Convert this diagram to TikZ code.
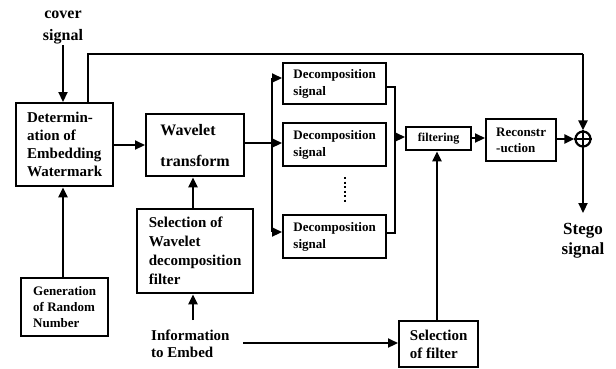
\documentclass[tikz,border=0pt]{standalone}
\usepackage{fontspec}
\setmainfont{Liberation Serif}
\usetikzlibrary{arrows.meta}
\begin{document}
\begin{tikzpicture}[x=1pt,y=-1pt,
  box/.style={draw, line width=2.3pt, anchor=north west, inner sep=0pt, align=left},
  lbl/.style={inner sep=0pt, align=center},
  conn/.style={line width=2.2pt},
  arr/.style={line width=2.2pt, -{Triangle[length=10pt,width=9pt]}},
  sumc/.style={draw, circle, line width=2.2pt, minimum size=15pt, inner sep=0pt},
]
\useasboundingbox (0,0) rectangle (616,368);
% labels
\node[lbl, font=\fontsize{16}{22}\selectfont\bfseries] (cover) at (63,27) {cover\\signal};
\node[lbl, font=\fontsize{17}{20}\selectfont\bfseries] (stego) at (583,241) {Stego\\signal};
\node[lbl, align=left, anchor=north west, font=\fontsize{15}{17}\selectfont\bfseries] (info) at (151,330) {Information\\to Embed};
% boxes
\node[box, minimum width=97pt, minimum height=83pt, font=\fontsize{15}{18}\selectfont\bfseries] (det) at (15,102) {Determin-\\ation of\\Embedding\\Watermark};
\node[box, minimum width=98pt, minimum height=62pt, font=\fontsize{16}{18}\selectfont\bfseries] (wav) at (145,113) {Wavelet\\[13pt]transform};
\node[box, minimum width=116pt, minimum height=84pt, font=\fontsize{15}{19}\selectfont\bfseries] (selw) at (136,208) {Selection of\\Wavelet\\decomposition\\filter};
\node[box, minimum width=87pt, minimum height=58pt, font=\fontsize{13}{16}\selectfont\bfseries] (gen) at (20,277) {Generation\\of Random\\Number};
\node[box, minimum width=103pt, minimum height=41pt, font=\fontsize{13}{17}\selectfont\bfseries] (dec1) at (282,62) {Decomposition\\signal};
\node[box, minimum width=103pt, minimum height=43pt, font=\fontsize{13}{17}\selectfont\bfseries] (dec2) at (282,122) {Decomposition\\signal};
\node[box, minimum width=103pt, minimum height=43pt, font=\fontsize{13}{17}\selectfont\bfseries] (dec3) at (282,214) {Decomposition\\signal};
\node[box, minimum width=65pt, minimum height=23pt, font=\fontsize{12}{14}\selectfont\bfseries] (filt) at (405,126) {filtering};
\node[box, minimum width=70pt, minimum height=42pt, font=\fontsize{13}{16}\selectfont\bfseries] (rec) at (485,118) {Reconstr\\-uction};
\node[box, minimum width=79pt, minimum height=46pt, font=\fontsize{15}{18}\selectfont\bfseries] (self) at (398,320) {Selection\\of filter};
\node[sumc] (sum) at (583,139) {};
\draw[line width=1.8pt] (sum.north) -- (sum.south) (sum.west) -- (sum.east);
% dots
\draw[line width=2.5pt, dash pattern=on 2pt off 2.5pt] (345,177) -- (345,203);
% junction coordinates
\coordinate (tl) at (88,54);
\coordinate (tr) at (583,54);
\coordinate (bus1t) at (272,78);
\coordinate (bus1m) at (272,143);
\coordinate (bus1b) at (272,232);
\coordinate (bus2t) at (395,87);
\coordinate (bus2m) at (395,137);
\coordinate (bus2b) at (395,233);
\coordinate (infoend) at (243,343);
% connectors
\draw[arr] (cover.south |- 0,45) -- (cover.south |- det.north);
\draw[conn] (det.north -| tl) -- (tl) -- (tr);
\draw[arr] (tr) -- (sum.north);
\draw[arr] (det.east |- 0,145) -- (wav.west |- 0,145);
\draw[arr] (gen.north -| 63,0) -- (det.south -| 63,0);
\draw[arr] (selw.north -| 193,0) -- (wav.south -| 193,0);
\draw[arr] (193,320) -- (selw.south -| 193,0);
\draw[conn] (wav.east |- bus1m) -- (bus1m);
\draw[conn] (bus1t) -- (bus1b);
\draw[arr] (bus1t) -- (dec1.west |- bus1t);
\draw[arr] (bus1m) -- (dec2.west |- bus1m);
\draw[arr] (bus1b) -- (dec3.west |- bus1b);
\draw[conn] (dec1.east |- bus2t) -- (bus2t) -- (bus2b) -- (dec3.east |- bus2b);
\draw[arr] (bus2m) -- (filt.west |- bus2m);
\draw[arr] (filt.east |- 0,138) -- (rec.west |- 0,138);
\draw[arr] (rec.east |- sum.west) -- (sum.west);
\draw[arr] (sum.south) -- (583,213);
\draw[arr] (infoend) -- (self.west |- infoend);
\draw[arr] (self.north -| 437,0) -- (filt.south -| 437,0);
\end{tikzpicture}
\end{document}
